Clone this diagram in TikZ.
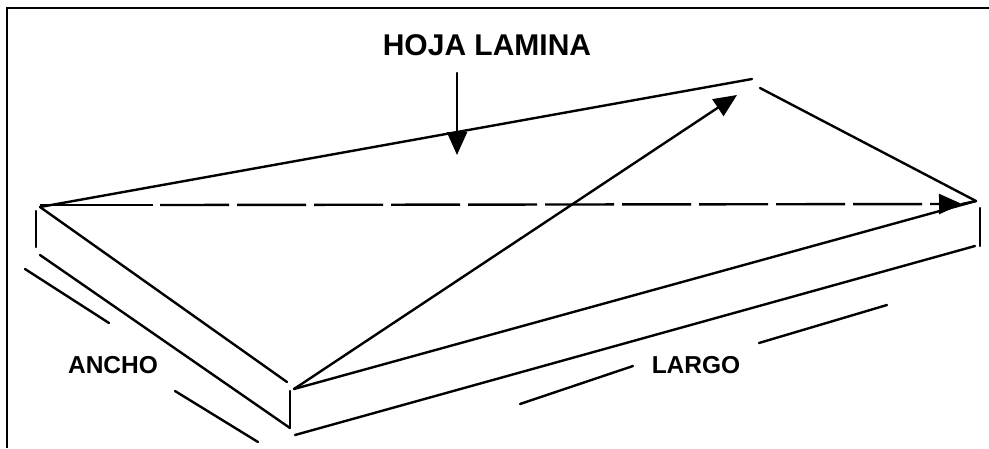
\documentclass[tikz,border=0pt]{standalone}
\usepackage{fontspec}
\setmainfont{Liberation Sans}
\usetikzlibrary{arrows.meta}
\newcommand{\TitleF}{\fontsize{30}{34}\selectfont\bfseries}
\newcommand{\LabelF}{\fontsize{24.5}{30}\selectfont\bfseries}
\tikzset{
  edge/.style={line width=2.4pt, line cap=round},
  headline/.style={edge, -{Triangle[length=23pt, width=20pt]}},
}

\begin{document}
\begin{tikzpicture}[x=1pt,y=-1pt]
\useasboundingbox (0,0) rectangle (989,448);
% corners of the sheet
\coordinate (backleft) at (40,207);
\coordinate (backtop) at (752,79);
\coordinate (topstart) at (760,88);
\coordinate (backright) at (976,201);
\coordinate (frontup) at (287,382);
\coordinate (frontstart) at (294,389);
\coordinate (sideA) at (36,211);
\coordinate (sideB) at (36,247);
\coordinate (lowleft) at (40,255);
\coordinate (lowfront) at (290,428);
\coordinate (vertA) at (290,391);
\coordinate (lowstart) at (295,435);
\coordinate (lowright) at (975,246);
\coordinate (vertB) at (980,208);
\coordinate (vertC) at (980,246);
% frame
\coordinate (frameA) at (7,448);
\coordinate (frameB) at (7,8);
\coordinate (frameC) at (989,8);
\draw[edge, line cap=butt] (frameA) -- (frameB) -- (frameC);
% labels
\node[font=\TitleF] (hoja) at (487,45) {HOJA LAMINA};
\node[font=\LabelF] (ancho) at (113,365) {ANCHO};
\node[font=\LabelF] (largo) at (696,365) {LARGO};
% sheet
\draw[edge] (backleft) -- (backtop);
\draw[edge] (topstart) -- (backright);
\draw[edge] (backleft) -- (frontup);
\draw[edge] (sideA) -- (sideB);
\draw[edge] (lowleft) -- (lowfront);
\draw[edge] (vertA) -- (lowfront);
\draw[edge] (lowstart) -- (lowright);
\draw[edge] (vertB) -- (vertC);
\draw[edge] (frontstart) -- (backright);
% arrows
\coordinate (pointer) at (457,73);
\coordinate (pointertip) at (457,155);
\draw[headline] (pointer) -- (pointertip);
\coordinate (diagtip) at (737,95);
\draw[headline] (frontstart) -- (diagtip);
\coordinate (dashstart) at (40,205);
\coordinate (dashA) at (153,205);
\coordinate (dashB) at (160,205);
\coordinate (dashtip) at (962,204);
\draw[edge, line cap=butt] (dashstart) -- (dashA);
\draw[headline, line cap=butt, dash pattern=on 69pt off 8pt] (dashB) -- (dashtip);
\draw[edge] (dashtip) -- (backright);
% measure lines
\coordinate (anchoA) at (25,269);
\coordinate (anchoB) at (109,323);
\coordinate (anchoC) at (175,391);
\coordinate (anchoD) at (258,442);
\coordinate (largoA) at (520,404);
\coordinate (largoB) at (633,366);
\coordinate (largoC) at (759,343);
\coordinate (largoD) at (887,305);
\draw[edge] (anchoA) -- (anchoB);
\draw[edge] (anchoC) -- (anchoD);
\draw[edge] (largoA) -- (largoB);
\draw[edge] (largoC) -- (largoD);
\end{tikzpicture}
\end{document}
